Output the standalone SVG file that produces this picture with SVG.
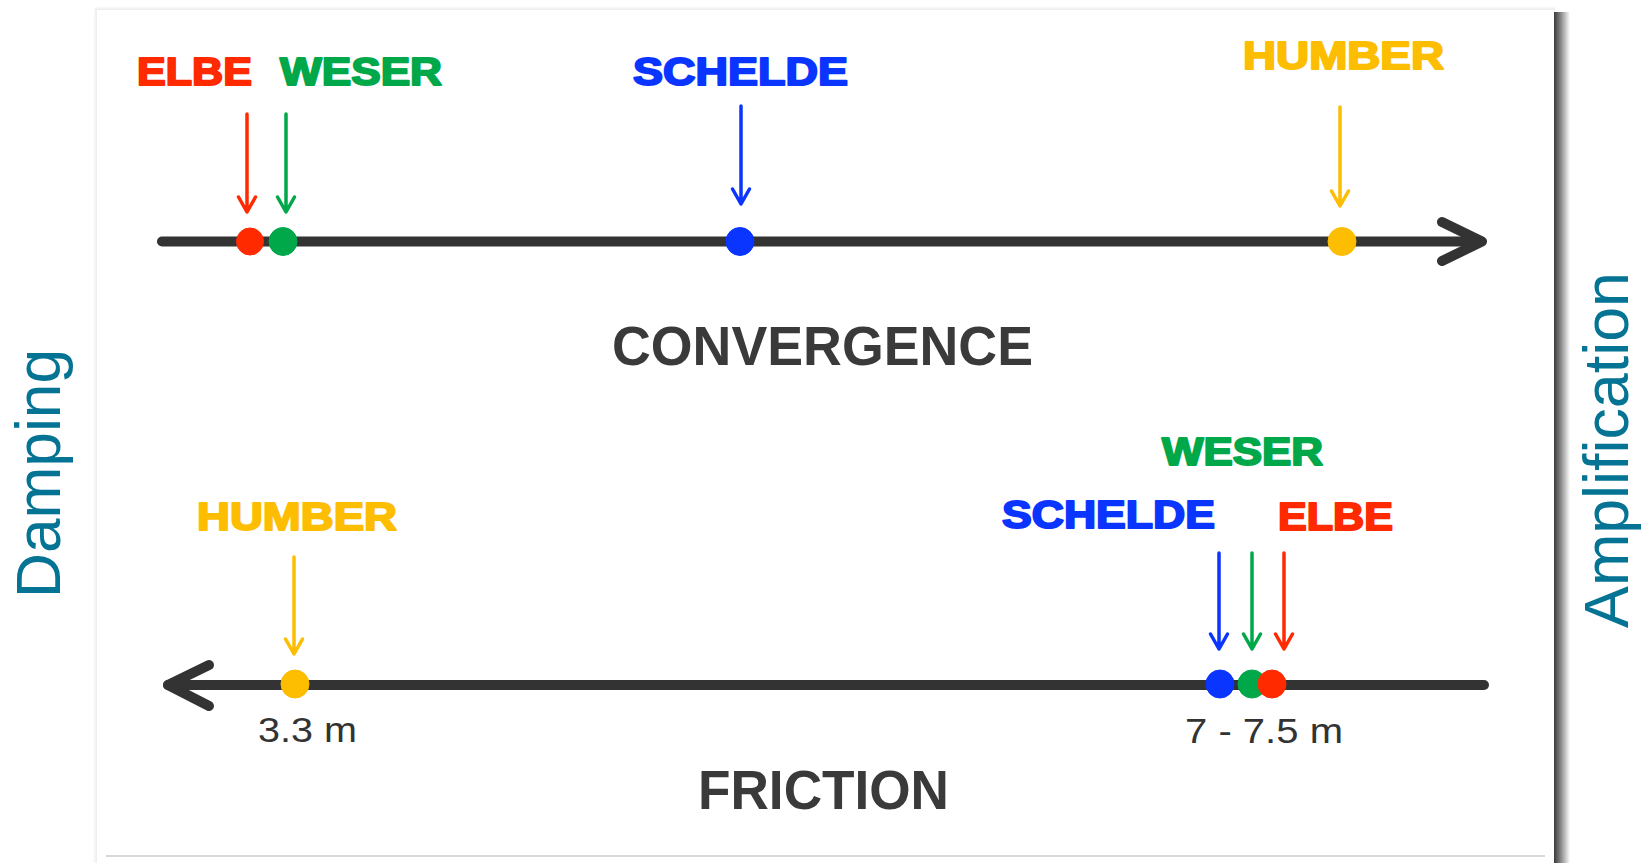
<svg xmlns="http://www.w3.org/2000/svg" width="1646" height="863" viewBox="0 0 1646 863">
<defs>
<linearGradient id="rsh" x1="0" y1="0" x2="1" y2="0">
<stop offset="0" stop-color="#3a3a3a"/>
<stop offset="0.35" stop-color="#7a7a7a"/>
<stop offset="1" stop-color="#ffffff"/>
</linearGradient>
<linearGradient id="tsh" x1="0" y1="1" x2="0" y2="0">
<stop offset="0" stop-color="#e6e6e6"/>
<stop offset="1" stop-color="#ffffff"/>
</linearGradient>
<linearGradient id="lsh" x1="1" y1="0" x2="0" y2="0">
<stop offset="0" stop-color="#ececec"/>
<stop offset="1" stop-color="#ffffff"/>
</linearGradient>
</defs>
<style>
.lab{font-family:"Liberation Sans",Arial,sans-serif;font-weight:bold;font-size:39px;stroke-width:2px;stroke-linejoin:round}
.title{font-family:"Liberation Sans",Arial,sans-serif;font-weight:bold;font-size:55px;fill:#3a3a3a}
.val{font-family:"Liberation Sans",Arial,sans-serif;font-size:35px;fill:#333333}
.side{font-family:"Liberation Sans",Arial,sans-serif;font-size:63px;fill:#057394}
.axis{stroke:#333333;stroke-width:10;stroke-linecap:round;stroke-linejoin:round;fill:none}
.ptr{stroke-width:3.5;stroke-linecap:round;stroke-linejoin:round;fill:none}
.red{fill:#ff2a00;stroke:#ff2a00}
.green{fill:#00a84a;stroke:#00a84a}
.blue{fill:#0a35ff;stroke:#0a35ff}
.yellow{fill:#fdbd00;stroke:#fdbd00}
</style>
<rect width="1646" height="863" fill="#ffffff"/>
<g id="panel">
<rect x="95" y="6" width="1460" height="5" fill="url(#tsh)"/>
<rect x="93" y="10" width="4" height="853" fill="url(#lsh)"/>
<rect x="97" y="10" width="1457" height="853" fill="#ffffff"/>
<rect x="1554" y="12" width="16" height="851" fill="url(#rsh)"/>
<line x1="106" y1="856" x2="1545" y2="856" stroke="#cccccc" stroke-width="1.5"/>
</g>
<g id="side-labels">
<text class="side" transform="translate(60,598) rotate(-90)" textLength="249" lengthAdjust="spacingAndGlyphs">Damping</text>
<text class="side" transform="translate(1628,628) rotate(-90)" textLength="356" lengthAdjust="spacingAndGlyphs">Amplification</text>
</g>
<g id="convergence-axis">
<path class="axis" d="M162 241.5 H1480"/>
<path class="axis" d="M1442 222 L1482 241.5 L1442 261"/>
<text class="title" x="612" y="365" textLength="421" lengthAdjust="spacingAndGlyphs">CONVERGENCE</text>
</g>
<g id="friction-axis">
<path class="axis" d="M168 685 H1484"/>
<path class="axis" d="M209 665 L168 685 L209 706"/>
<text class="title" x="698" y="809" textLength="251" lengthAdjust="spacingAndGlyphs">FRICTION</text>
<text class="val" x="258" y="742" textLength="99" lengthAdjust="spacingAndGlyphs">3.3 m</text>
<text class="val" x="1185" y="743" textLength="158" lengthAdjust="spacingAndGlyphs">7 - 7.5 m</text>
</g>
<g id="connectors">
<g class="red"><path class="ptr" d="M247 114 V211 M238.5 197 L247 212 L255.5 197"/></g>
<g class="green"><path class="ptr" d="M286 114 V211 M277.5 197 L286 212 L294.5 197"/></g>
<g class="blue"><path class="ptr" d="M741 106 V203 M732.5 189 L741 204 L749.5 189"/></g>
<g class="yellow"><path class="ptr" d="M1340 107 V205 M1331.5 191 L1340 206 L1348.5 191"/></g>
<g class="yellow"><path class="ptr" d="M294 557 V653 M285.5 639 L294 654 L302.5 639"/></g>
<g class="blue"><path class="ptr" d="M1219 553 V648 M1210.5 634 L1219 649 L1227.5 634"/></g>
<g class="green"><path class="ptr" d="M1252 553 V648 M1243.5 634 L1252 649 L1260.5 634"/></g>
<g class="red"><path class="ptr" d="M1284 553 V648 M1275.5 634 L1284 649 L1292.5 634"/></g>
</g>
<g id="elbe-top">
<circle class="red" cx="250" cy="241.5" r="13.5" stroke="none"/>
<text class="lab red" x="137" y="85" textLength="115" lengthAdjust="spacingAndGlyphs">ELBE</text>
</g>
<g id="weser-top">
<circle class="green" cx="283" cy="241.5" r="14" stroke="none"/>
<text class="lab green" x="280" y="85" textLength="162" lengthAdjust="spacingAndGlyphs">WESER</text>
</g>
<g id="schelde-top">
<circle class="blue" cx="740" cy="241.5" r="14" stroke="none"/>
<text class="lab blue" x="633" y="85" textLength="215" lengthAdjust="spacingAndGlyphs">SCHELDE</text>
</g>
<g id="humber-top">
<circle class="yellow" cx="1342" cy="241.5" r="14" stroke="none"/>
<text class="lab yellow" x="1243" y="69" textLength="201" lengthAdjust="spacingAndGlyphs">HUMBER</text>
</g>
<g id="humber-bottom">
<circle class="yellow" cx="295" cy="684" r="14" stroke="none"/>
<text class="lab yellow" x="197" y="530" textLength="200" lengthAdjust="spacingAndGlyphs">HUMBER</text>
</g>
<g id="schelde-bottom">
<circle class="blue" cx="1220" cy="684" r="14" stroke="none"/>
<text class="lab blue" x="1002" y="528" textLength="213" lengthAdjust="spacingAndGlyphs">SCHELDE</text>
</g>
<g id="weser-bottom">
<circle class="green" cx="1252" cy="684" r="14" stroke="none"/>
<text class="lab green" x="1162" y="465" textLength="161" lengthAdjust="spacingAndGlyphs">WESER</text>
</g>
<g id="elbe-bottom">
<circle class="red" cx="1272" cy="684" r="14" stroke="none"/>
<text class="lab red" x="1278" y="530" textLength="115" lengthAdjust="spacingAndGlyphs">ELBE</text>
</g>
</svg>
